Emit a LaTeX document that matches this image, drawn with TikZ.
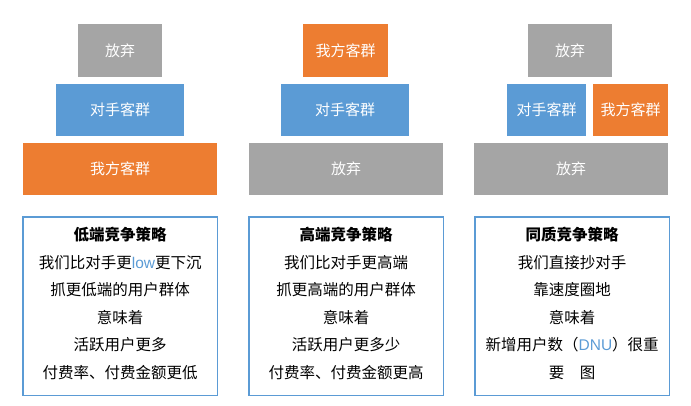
\documentclass[tikz,border=0pt]{standalone}
\usepackage{fontspec}
\setmainfont{Noto Sans CJK SC}
\setsansfont{Liberation Sans}
\usetikzlibrary{positioning}
\definecolor{ggray}{HTML}{A5A5A5}
\definecolor{gblue}{HTML}{5B9BD5}
\definecolor{gorange}{HTML}{ED7D31}
\tikzset{
  blk/.style={anchor=north west, text=white, inner sep=0pt, font=\fontsize{15}{16}\selectfont},
  txtbox/.style={anchor=north west, minimum width=194pt, minimum height=178pt, inner sep=0pt},
  txt/.style={align=center, anchor=north, font=\fontsize{15.5}{27.5}\selectfont}
}
\begin{document}
\begin{tikzpicture}[x=1pt,y=1pt]
  \useasboundingbox (0,0) rectangle (691,-405);
  % column 1
  \node[fill=ggray, blk, minimum width=84pt, minimum height=53pt] (gq1) at (78,-24) {放弃};
  \node[fill=gblue, blk, minimum width=128pt, minimum height=52pt] (ds1) at (56,-84) {对手客群};
  \node[fill=gorange, blk, minimum width=194pt, minimum height=52pt] (wf1) at (23,-143) {我方客群};
  % column 2
  \node[fill=gorange, blk, minimum width=85pt, minimum height=53pt] (wf2) at (303,-24) {我方客群};
  \node[fill=gblue, blk, minimum width=128pt, minimum height=52pt] (ds2) at (281,-84) {对手客群};
  \node[fill=ggray, blk, minimum width=194pt, minimum height=52pt] (gq2) at (249,-143) {放弃};
  % column 3
  \node[fill=ggray, blk, minimum width=84pt, minimum height=53pt] (gq3) at (528,-24) {放弃};
  \node[fill=gblue, blk, minimum width=79pt, minimum height=52pt] (ds3) at (507,-84) {对手客群};
  \node[fill=gorange, blk, minimum width=75pt, minimum height=52pt] (wf3) at (593,-84) {我方客群};
  \node[fill=ggray, blk, minimum width=194pt, minimum height=52pt] (gq4) at (474,-143) {放弃};

  % strategy boxes
  \node[txtbox] (cl1) at (23,-217) {};
  \node[txtbox] (cl2) at (249,-217) {};
  \node[txtbox] (cl3) at (475,-217) {};
  \foreach \c in {cl1,cl2,cl3}
    \draw[color=gblue, line width=1.2pt] (\c.north west) rectangle (\c.south east);
  \node[txt] (t1) at ([yshift=-7pt]cl1.north) {\textbf{低端竞争策略}\\我们比对手更{\color{gblue}\sffamily low}更下沉\\抓更低端的用户群体\\意味着\\活跃用户更多\\付费率、付费金额更低};
  \node[txt] (t2) at ([yshift=-7pt]cl2.north) {\textbf{高端竞争策略}\\我们比对手更高端\\抓更高端的用户群体\\意味着\\活跃用户更多少\\付费率、付费金额更高};
  \node[txt] (t3) at ([yshift=-7pt]cl3.north) {\textbf{同质竞争策略}\\我们直接抄对手\\靠速度圈地\\意味着\\新增用户数（{\color{gblue}\sffamily DNU}）很重\\要\quad 图};
\end{tikzpicture}
\end{document}
